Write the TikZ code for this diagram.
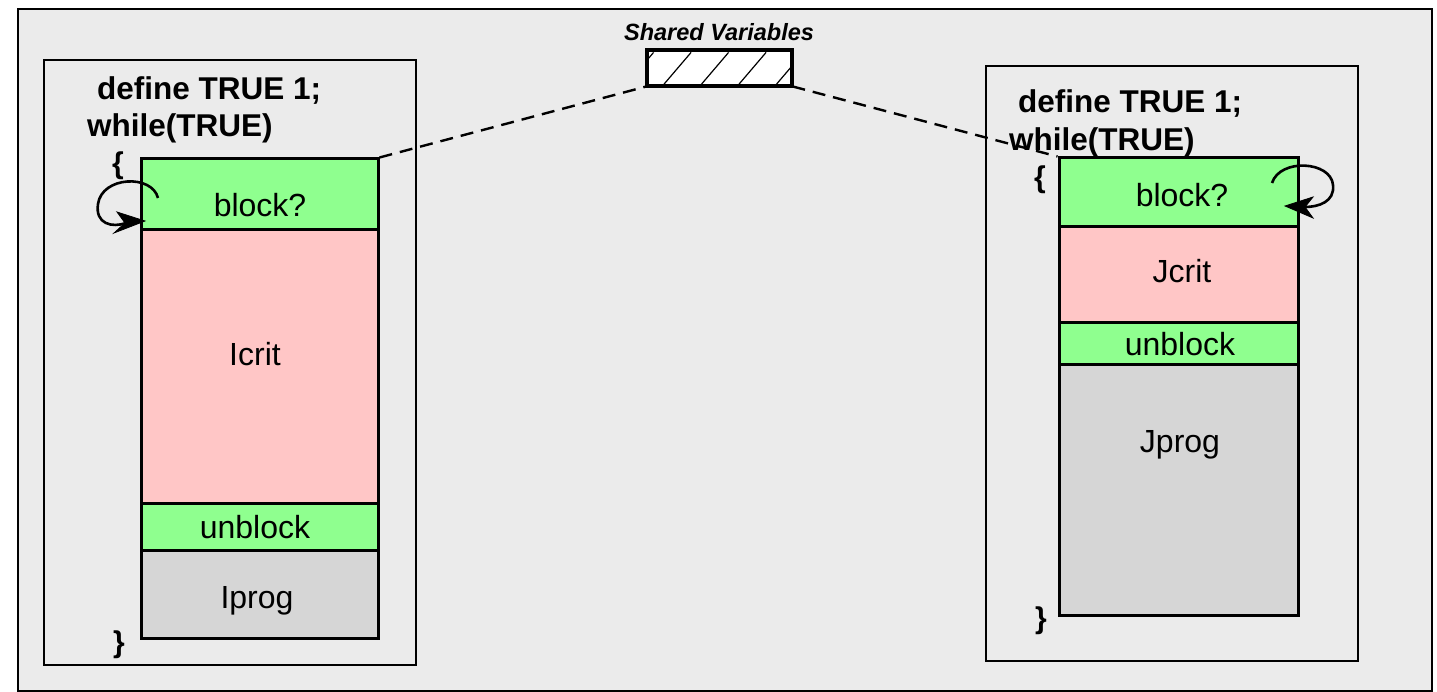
\documentclass[tikz,border=0pt]{standalone}
\usepackage{fontspec}
\setmainfont{Liberation Sans}
\usetikzlibrary{calc}
\definecolor{panel}{HTML}{EBEBEB}
\definecolor{guard}{HTML}{8FFF8F}
\definecolor{crit}{HTML}{FFC6C6}
\definecolor{prog}{HTML}{D6D6D6}
\tikzset{
  seg/.style={draw=black, line width=3pt, inner sep=0pt, rectangle},
  frame/.style={draw=black, line width=2.8pt, inner sep=0pt, rectangle, fill=panel},
  lbl/.style={font=\fontsize{32}{36}\selectfont, inner sep=0pt},
  code/.style={font=\bfseries\fontsize{31.5}{36}\selectfont, inner sep=0pt, anchor=base west},
  brace/.style={font=\bfseries\fontsize{30}{34}\selectfont, inner sep=0pt},
  link/.style={line width=2.4pt, dash pattern=on 13pt off 8pt},
  waitloop/.style={line width=2.6pt},
  loophead/.style={fill=black, draw=black, line width=0.8pt, line join=miter}
}
\begin{document}
\begin{tikzpicture}[x=1pt,y=-1pt]
\useasboundingbox (0,0) rectangle (1437,692);
% outer panel
\node[frame, minimum width=1414pt, minimum height=682pt] (panel) at (725,350) {};
% process boxes
\node[frame, minimum width=372pt, minimum height=605pt] (lproc) at (230,362.5) {};
\node[frame, minimum width=372pt, minimum height=595pt] (rproc) at (1172,363.5) {};

% left column
\node[seg, fill=guard, minimum width=237pt, minimum height=71pt]  (lblock) at (259.5,194.5) {};
\node[seg, fill=crit,  minimum width=237pt, minimum height=273pt] (lcrit)  at (259.5,366.5) {};
\node[seg, fill=guard, minimum width=237pt, minimum height=47pt]  (lunb)   at (259.5,526.5) {};
\node[seg, fill=prog,  minimum width=237pt, minimum height=88pt]  (lprog)  at (259.5,594) {};
\node[lbl] (tlblock) at (260,205) {block?};
\node[lbl] (tlcrit)  at (255,354) {Icrit};
\node[lbl] (tlunb)   at (255,527) {unblock};
\node[lbl] (tlprog)  at (257,601) {Iprog};

% right column
\node[seg, fill=guard, minimum width=239pt, minimum height=69pt]  (rblock) at (1178.5,192.5) {};
\node[seg, fill=crit,  minimum width=239pt, minimum height=96pt]  (rcrit)  at (1178.5,275) {};
\node[seg, fill=guard, minimum width=239pt, minimum height=41pt]  (runb)   at (1178.5,343.5) {};
\node[seg, fill=prog,  minimum width=239pt, minimum height=251pt] (rprog)  at (1178.5,489.5) {};
\node[lbl] (trblock) at (1182,195) {block?};
\node[lbl] (trcrit)  at (1182,271) {Jcrit};
\node[lbl] (trunb)   at (1180,344) {unblock};
\node[lbl] (trprog)  at (1180,445) {Jprog};

% code text
\node[code] (ldef)   at (97,100)   {define TRUE 1;};
\node[code] (lwhile) at (87,137)   {while(TRUE)};
\node[code] (rdef)   at (1018,113) {define TRUE 1;};
\node[code] (rwhile) at (1009,151) {while(TRUE)};
\node[brace] (lopen)  at (118,166) {\{};
\node[brace] (lclose) at (119,645) {\}};
\node[brace] (ropen)  at (1040,180) {\{};
\node[brace] (rclose) at (1041,621) {\}};

% shared variables
\node[font=\bfseries\itshape\fontsize{23.5}{26}\selectfont, inner sep=0pt] (stitle) at (719,32) {Shared Variables};
\node[draw=black, line width=2.8pt, fill=white, minimum width=143pt, minimum height=34pt, inner sep=0pt] (shared) at (719.5,68) {};
\begin{scope}
  \clip (shared.south west) rectangle (shared.north east);
  \foreach \k in {0,...,5} {
    \draw[line width=1.2pt] ($(shared.south west)+(\k*37.5-22,0)$) -- ++(29,-34);
  }
\end{scope}
\draw[line width=2.8pt] (shared.south west) rectangle (shared.north east);

% links to shared variables
\draw[link] (lblock.north east) -- (shared.south west);
\draw[link] (shared.south east) -- (rblock.north west);

% busy-wait loops, each with a swept arrowhead
\draw[waitloop] (158,198) .. controls (152,174) and (102,176) .. (98,204)
            .. controls (95,224) and (112,228) .. (126,223);
\draw[loophead] (145,221) -- (117,212) -- (125,223) -- (114,233) -- cycle;
\draw[waitloop] (1272,183) .. controls (1280,158) and (1331,161) .. (1333,185)
            .. controls (1335,202) and (1318,207) .. (1305,207);
\draw[loophead] (1285,206) -- (1313,197) -- (1305,207) -- (1313,218) -- cycle;
\end{tikzpicture}
\end{document}
